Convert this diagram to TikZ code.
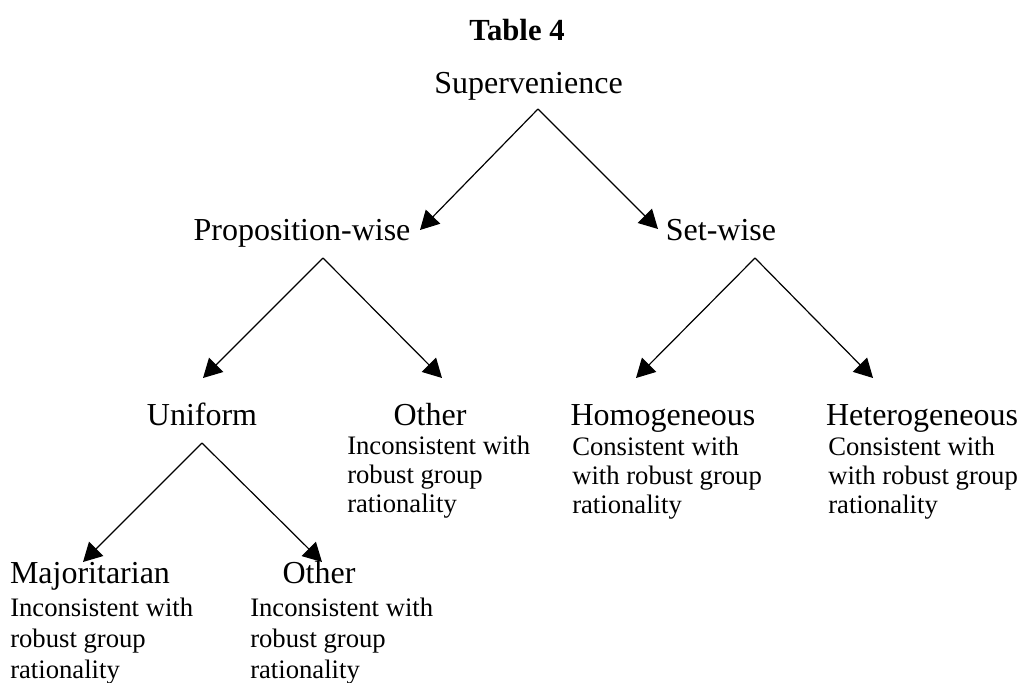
\documentclass[tikz,border=0pt]{standalone}
\usepackage{fontspec}
\setmainfont{Liberation Serif}
\usetikzlibrary{arrows.meta}
\begin{document}
\begin{tikzpicture}[x=0.75pt,y=-0.75pt,
  head/.style={font=\fontsize{24}{28}\selectfont, inner sep=0pt, anchor=base},
  desc/.style={font=\fontsize{20}{21.75}\selectfont, inner sep=0pt, anchor=base west, align=left},
  descb/.style={font=\fontsize{20}{23.25}\selectfont, inner sep=0pt, anchor=base west, align=left},
  link/.style={line width=0.9pt, -{Triangle[length=14pt,width=15pt]}}]
\useasboundingbox (0,0) rectangle (1023,682);
% title
\node[font=\fontsize{23}{27}\selectfont\bfseries, inner sep=0pt, anchor=base] (title) at (517,40) {Table 4};
% headings
\node[head] (sup) at (528.5,93) {Supervenience};
\node[head] (prop) at (302,240) {Proposition-wise};
\node[head] (set) at (721,240) {Set-wise};
\node[head] (uni) at (202,425) {Uniform};
\node[head] (oth1) at (430,425) {Other};
\node[head] (hom) at (663,425) {Homogeneous};
\node[head] (het) at (922,425) {Heterogeneous};
\node[head] (maj) at (90,583) {Majoritarian};
\node[head] (oth2) at (319,583) {Other};
% descriptions (anchored at the baseline of their last line)
\node[desc] (oth1d) at (347,512) {Inconsistent with\\robust group\\rationality};
\node[desc] (homd) at (572,513) {Consistent with\\ with robust group\\rationality};
\node[desc] (hetd) at (828,513) {Consistent with\\ with robust group\\rationality};
\node[descb] (majd) at (10,678) {Inconsistent with\\robust group\\rationality};
\node[descb] (oth2d) at (250,678) {Inconsistent with\\robust group\\rationality};
% connector ends
\coordinate (supA) at (538,109);
\coordinate (propT) at (420,230);
\coordinate (setT) at (658,229);
\coordinate (propA) at (323,258);
\coordinate (uniT) at (203,378);
\coordinate (oth1T) at (442,378);
\coordinate (setA) at (755,258);
\coordinate (homT) at (636,378);
\coordinate (hetT) at (873,378);
\coordinate (uniA) at (202,443);
\coordinate (majT) at (83,562);
\coordinate (oth2T) at (322,562);
% connectors
\draw[link] (supA) -- (propT);
\draw[link] (supA) -- (setT);
\draw[link] (propA) -- (uniT);
\draw[link] (propA) -- (oth1T);
\draw[link] (setA) -- (homT);
\draw[link] (setA) -- (hetT);
\draw[link] (uniA) -- (majT);
\draw[link] (uniA) -- (oth2T);
\end{tikzpicture}
\end{document}
